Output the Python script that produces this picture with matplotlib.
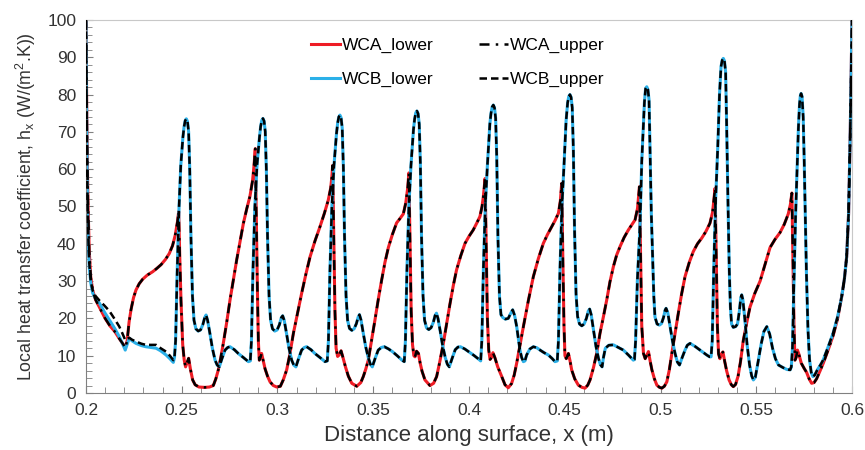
import matplotlib
matplotlib.use("Agg")
import matplotlib.pyplot as plt
from matplotlib.ticker import MultipleLocator, FuncFormatter

plt.rcParams['font.family'] = ['Liberation Sans', 'DejaVu Sans']

# WCA lower surface (red) as (x, h)
wca_lower = [
    (0.2000, 100), (0.2005, 70), (0.2010, 52), (0.2017, 38), (0.2025, 31), (0.2035, 27.5),
    (0.2050, 25), (0.2070, 23), (0.2100, 20), (0.2125, 18), (0.2150, 16.5), (0.2175, 14.5),
    (0.2195, 13), (0.2205, 12), (0.2215, 14), (0.2225, 19), (0.2235, 22.3), (0.2248, 25.5),
    (0.2261, 27.6), (0.2278, 29.3), (0.2296, 30.5), (0.2320, 31.6), (0.2348, 32.5), (0.2370, 33.4),
    (0.2392, 34.4), (0.2415, 35.8), (0.2435, 37.4), (0.2452, 39.5), (0.2466, 42.3), (0.2478, 46),
    (0.2484, 48.6), (0.2490, 36), (0.2496, 24.9), (0.2505, 13), (0.2513, 8.8), (0.2520, 7),
    (0.2528, 8.2), (0.2536, 9.3), (0.2545, 6.5), (0.2557, 3.5), (0.2570, 2.2), (0.2590, 1.6),
    (0.2620, 1.5), (0.2645, 1.6), (0.2665, 2.0), (0.2678, 3.8), (0.2691, 6.2), (0.2704, 9.5),
    (0.2717, 13.3), (0.2735, 19), (0.2752, 24.9), (0.2770, 30.5), (0.2787, 35.7), (0.2805, 40.8),
    (0.2822, 45.5), (0.2840, 49.5), (0.2856, 52.7), (0.2870, 57), (0.2877, 60.7), (0.2884, 65.5),
    (0.2890, 45), (0.2895, 28), (0.2900, 14), (0.2905, 8.8), (0.2911, 9.5), (0.2917, 10.6),
    (0.2926, 8.5), (0.2935, 6.5), (0.2948, 4.5), (0.2961, 3.0), (0.2978, 2.0), (0.2996, 1.6),
    (0.3015, 1.8), (0.3030, 3.5), (0.3048, 6.2), (0.3065, 10.5), (0.3083, 16), (0.3105, 21.5),
    (0.3126, 26.7), (0.3148, 31.8), (0.3170, 36.5), (0.3196, 40.8), (0.3222, 44.6), (0.3245, 48.2),
    (0.3265, 51.7), (0.3278, 55), (0.3284, 58), (0.3288, 61),
    (0.3294, 42), (0.3300, 22), (0.3306, 12), (0.3314, 9.8), (0.3322, 10.2), (0.3332, 11.3),
    (0.3342, 9.5), (0.3355, 7), (0.3370, 4.5), (0.3388, 2.6), (0.3414, 1.8), (0.3435, 2.8),
    (0.3448, 4.4), (0.3461, 6.4), (0.3474, 8.8), (0.3491, 14), (0.3509, 19.6), (0.3526, 25),
    (0.3544, 30.3), (0.3561, 35), (0.3579, 39), (0.3600, 42.5), (0.3622, 45.6), (0.3640, 46.8),
    (0.3657, 48), (0.3670, 51), (0.3680, 55), (0.3686, 59),
    (0.3692, 40), (0.3698, 22), (0.3705, 13), (0.3712, 10), (0.3718, 9.7), (0.3726, 11.2),
    (0.3736, 10.6), (0.3745, 8), (0.3755, 5.8), (0.3770, 3.5), (0.3796, 2.0), (0.3815, 2.6),
    (0.3831, 4.4), (0.3848, 8.5), (0.3866, 13.3), (0.3884, 18.8), (0.3901, 24), (0.3918, 28.8),
    (0.3935, 33), (0.3957, 36.8), (0.3979, 40.1), (0.4000, 42), (0.4022, 43.7), (0.4040, 45.5),
    (0.4057, 47.3), (0.4068, 50), (0.4075, 52.7), (0.4084, 57.5),
    (0.4090, 38), (0.4096, 20), (0.4103, 11.5), (0.4110, 9), (0.4117, 9.5), (0.4125, 10.8),
    (0.4135, 9.5), (0.4150, 7), (0.4171, 4.4), (0.4188, 2.2), (0.4205, 1.4), (0.4222, 2.5),
    (0.4236, 4.8), (0.4249, 8), (0.4266, 12.8), (0.4284, 17.8), (0.4310, 24.8), (0.4336, 31.2),
    (0.4362, 36), (0.4388, 40.1), (0.4410, 42.5), (0.4432, 44.6), (0.4450, 46.3), (0.4467, 48.2),
    (0.4477, 51.5), (0.4484, 56.2),
    (0.4490, 36), (0.4496, 18), (0.4501, 10), (0.4508, 9.2), (0.4519, 10.6), (0.4528, 8.5),
    (0.4536, 6.2), (0.4552, 3.8), (0.4571, 2.1), (0.4590, 1.5), (0.4606, 1.3), (0.4620, 2.1),
    (0.4632, 3.5), (0.4650, 6.8), (0.4667, 10.7), (0.4684, 16), (0.4702, 20.5), (0.4719, 24.9),
    (0.4736, 29.8), (0.4754, 33.9), (0.4771, 37), (0.4789, 39.3), (0.4810, 41.7), (0.4832, 43.7),
    (0.4850, 45.1), (0.4867, 46.4), (0.4880, 49.5), (0.4890, 55.3),
    (0.4896, 36), (0.4902, 18), (0.4911, 10.6), (0.4920, 9.2), (0.4930, 10.3), (0.4937, 11.1),
    (0.4945, 8.8), (0.4955, 6.2), (0.4968, 3.8), (0.4981, 2.1), (0.4995, 1.5), (0.5007, 1.3),
    (0.5020, 1.8), (0.5033, 3.0), (0.5046, 6.2), (0.5059, 10.6), (0.5076, 16), (0.5093, 21.4),
    (0.5110, 26.5), (0.5128, 31.2), (0.5150, 35), (0.5171, 37.9), (0.5193, 40), (0.5215, 41.5),
    (0.5237, 43.3), (0.5258, 45.5), (0.5272, 48.5), (0.5285, 54.9),
    (0.5291, 36), (0.5297, 18), (0.5303, 10.5), (0.5310, 9.2), (0.5318, 10.5), (0.5326, 11),
    (0.5335, 8.5), (0.5345, 6), (0.5358, 3.5), (0.5370, 2.2), (0.5380, 1.7), (0.5392, 2.3),
    (0.5405, 4.5), (0.5418, 8.5), (0.5432, 14), (0.5450, 18.8), (0.5467, 23), (0.5493, 26.8),
    (0.5520, 30), (0.5546, 34.5), (0.5572, 39), (0.5598, 41.2), (0.5624, 43), (0.5646, 45.2),
    (0.5667, 48), (0.5678, 50.5), (0.5686, 53.6),
    (0.5692, 35), (0.5697, 18), (0.5702, 8.8), (0.5708, 9.5), (0.5715, 11.5), (0.5722, 10.5),
    (0.5735, 8), (0.5750, 6.6), (0.5763, 5.5), (0.5776, 3.8), (0.5789, 2.6), (0.5802, 2.8),
    (0.5815, 3.8), (0.5832, 5.8), (0.5850, 8), (0.5875, 11.5), (0.5902, 15.5), (0.5925, 20),
    (0.5946, 25.8), (0.5960, 30.5), (0.5972, 36.5), (0.5982, 48), (0.5990, 67.8), (0.5996, 88),
    (0.6000, 100),
]

# WCB lower surface (blue)
wcb_start = [
    (0.2000, 100), (0.2004, 70), (0.2008, 50), (0.2012, 40), (0.2017, 33.9), (0.2025, 29.5),
    (0.2035, 26.8), (0.2050, 25.3), (0.2070, 24.1), (0.2095, 21.8), (0.2122, 19.6), (0.2150, 17.3),
    (0.2174, 15.1), (0.2190, 13.3), (0.2205, 11.5), (0.2215, 13), (0.2226, 14.7), (0.2240, 14),
    (0.2261, 13.3), (0.2290, 12.7), (0.2313, 12.4), (0.2340, 12.2), (0.2366, 12.0), (0.2390, 11.3),
    (0.2418, 10.2), (0.2438, 9.2), (0.2456, 8.2),
]
wcb_rest = [
    (0.2462, 9.5), (0.2468, 14), (0.2476, 32), (0.2486, 50), (0.2495, 61), (0.2506, 68.5),
    (0.2512, 71.3), (0.2518, 73), (0.2524, 73.5), (0.2530, 72.8), (0.2536, 70), (0.2542, 59.5),
    (0.2548, 42), (0.2556, 26), (0.2564, 19.5), (0.2574, 17.2),
    (0.2586, 16.6), (0.2598, 16.9), (0.2610, 18.3), (0.2620, 20.2), (0.2627, 20.9), (0.2635, 19.5),
    (0.2647, 16), (0.2660, 12), (0.2674, 8.8), (0.2685, 7.5), (0.2696, 7.0), (0.2710, 9.2),
    (0.2726, 11.5), (0.2740, 12.2), (0.2752, 12.4), (0.2775, 11.6), (0.2795, 10.6), (0.2822, 9.5),
    (0.2848, 8.4), (0.2858, 8.6),
    (0.2864, 14), (0.2872, 33), (0.2882, 50), (0.2893, 61), (0.2906, 68.6), (0.2912, 71.4),
    (0.2918, 73.1), (0.2924, 73.6), (0.2930, 72.9), (0.2936, 70.1), (0.2942, 59.6),
    (0.2948, 42), (0.2956, 26), (0.2964, 19.5), (0.2974, 17.2),
    (0.2986, 16.6), (0.2998, 16.9), (0.3010, 18.3), (0.3020, 20.2), (0.3027, 20.7), (0.3035, 19.5),
    (0.3047, 16), (0.3060, 12), (0.3074, 8.8), (0.3085, 7.5), (0.3096, 7.0), (0.3110, 9.2),
    (0.3126, 11.5), (0.3140, 12.2), (0.3152, 12.4), (0.3175, 11.6), (0.3195, 10.6), (0.3222, 9.5),
    (0.3248, 8.4), (0.3260, 8.6),
    (0.3266, 14), (0.3274, 33), (0.3284, 50), (0.3295, 61), (0.3308, 69.5), (0.3314, 72.3),
    (0.3320, 74), (0.3326, 74.5), (0.3332, 73.8), (0.3338, 71), (0.3344, 60.5),
    (0.3350, 42), (0.3358, 26), (0.3366, 19.5), (0.3376, 17.3),
    (0.3388, 16.8), (0.3400, 17.2), (0.3412, 18.6), (0.3421, 20.3), (0.3428, 21), (0.3436, 19.6),
    (0.3448, 16), (0.3461, 12.3), (0.3474, 9.5), (0.3485, 7.7), (0.3495, 7.0), (0.3510, 9.3),
    (0.3526, 11.5), (0.3542, 12.2), (0.3558, 12.4), (0.3580, 11.8), (0.3600, 11.1), (0.3625, 10),
    (0.3650, 8.8), (0.3662, 8.4),
    (0.3668, 14), (0.3676, 33), (0.3686, 50), (0.3697, 61), (0.3710, 70.6), (0.3716, 73.4),
    (0.3722, 75.1), (0.3728, 75.6), (0.3734, 74.9), (0.3740, 72.1), (0.3746, 61.6),
    (0.3752, 42), (0.3760, 26), (0.3768, 19.5), (0.3778, 17.5),
    (0.3790, 17), (0.3802, 17.5), (0.3814, 19), (0.3823, 20.8), (0.3830, 21.4), (0.3838, 20),
    (0.3850, 16.5), (0.3863, 12.5), (0.3876, 9.5), (0.3887, 7.7), (0.3897, 7.0), (0.3912, 9.3),
    (0.3928, 11.6), (0.3942, 12.3), (0.3955, 12.4), (0.3978, 11.8), (0.4000, 11), (0.4025, 10.1),
    (0.4045, 9.3), (0.4061, 8.6),
    (0.4067, 14), (0.4075, 33), (0.4085, 50), (0.4096, 61), (0.4109, 72.2), (0.4115, 75),
    (0.4121, 76.7), (0.4127, 77.2), (0.4133, 76.5), (0.4139, 73.7), (0.4145, 63),
    (0.4151, 42), (0.4159, 26), (0.4167, 21), (0.4177, 20.2),
    (0.4190, 19.8), (0.4205, 20), (0.4218, 21.4), (0.4228, 22.3), (0.4238, 20.8), (0.4249, 17.8),
    (0.4258, 14.5), (0.4266, 11.5), (0.4275, 9.5), (0.4284, 8.4), (0.4292, 8.6), (0.4301, 10.2),
    (0.4318, 11.8), (0.4336, 12.4), (0.4355, 12.1), (0.4371, 11.5), (0.4392, 10.8), (0.4414, 10.2),
    (0.4435, 9.2), (0.4449, 8.4), (0.4461, 8.6),
    (0.4467, 14), (0.4475, 33), (0.4485, 50), (0.4496, 61), (0.4507, 73), (0.4515, 77.8),
    (0.4521, 79.5), (0.4527, 80), (0.4533, 79.3), (0.4539, 76.5), (0.4545, 65),
    (0.4551, 44), (0.4559, 26.5), (0.4567, 20.5), (0.4577, 18.5),
    (0.4589, 18), (0.4601, 18.5), (0.4613, 20), (0.4623, 22), (0.4630, 22.5), (0.4638, 21),
    (0.4650, 17), (0.4663, 12.5), (0.4676, 9.3), (0.4686, 7.6), (0.4695, 7.0), (0.4702, 9.5),
    (0.4712, 12), (0.4730, 12.8), (0.4754, 12.9), (0.4780, 12.2), (0.4806, 11.5), (0.4832, 10.2),
    (0.4858, 8.8), (0.4864, 9.0),
    (0.4870, 14), (0.4879, 30), (0.4893, 45), (0.4902, 62), (0.4911, 72), (0.4916, 78),
    (0.4922, 81.6), (0.4928, 82.1), (0.4934, 81.4), (0.4940, 78.6), (0.4946, 64),
    (0.4952, 48), (0.4959, 35.7), (0.4965, 26), (0.4971, 20.4),
    (0.4982, 18.5), (0.4994, 18.2), (0.5005, 18.6), (0.5016, 20.3), (0.5024, 22.2), (0.5029, 22.7),
    (0.5038, 21.5), (0.5050, 17.8), (0.5063, 13.8), (0.5076, 10.6), (0.5088, 8.3), (0.5099, 7.5),
    (0.5113, 9.5), (0.5128, 11.5), (0.5140, 12.8), (0.5154, 13.3), (0.5180, 12.5), (0.5206, 11.5),
    (0.5225, 10.8), (0.5241, 10.2), (0.5256, 9.7), (0.5264, 9.7),
    (0.5270, 14), (0.5278, 33), (0.5288, 52), (0.5299, 66), (0.5308, 80), (0.5316, 87.5),
    (0.5322, 89.2), (0.5328, 89.7), (0.5334, 89), (0.5340, 86), (0.5346, 70),
    (0.5352, 52), (0.5359, 33), (0.5365, 23), (0.5371, 18.5),
    (0.5380, 17.6), (0.5392, 17.8), (0.5402, 18.5), (0.5412, 22), (0.5419, 25.5), (0.5424, 26.3),
    (0.5430, 25), (0.5440, 20), (0.5452, 13), (0.5465, 7.5), (0.5476, 4.6), (0.5485, 3.5),
    (0.5495, 4.2), (0.5510, 8.5), (0.5525, 13), (0.5540, 16.5), (0.5555, 17.8), (0.5570, 15.8),
    (0.5585, 12), (0.5600, 9.2), (0.5616, 7.5), (0.5640, 6.8), (0.5660, 6.3), (0.5677, 6.2),
    (0.5683, 7),
    (0.5689, 12), (0.5696, 28), (0.5705, 47), (0.5714, 61), (0.5720, 71), (0.5726, 77.5),
    (0.5730, 79.6), (0.5734, 80.3), (0.5739, 79.5), (0.5745, 74), (0.5750, 63),
    (0.5755, 50), (0.5762, 32), (0.5770, 17), (0.5778, 9),
    (0.5787, 5.5), (0.5796, 4.4), (0.5805, 4.8), (0.5820, 6.3), (0.5835, 7.5), (0.5849, 8.8),
    (0.5875, 12.3), (0.5901, 16), (0.5925, 20.5), (0.5946, 25.8), (0.5960, 30.5), (0.5972, 36.5),
    (0.5982, 48), (0.5990, 67.8), (0.5996, 88), (0.6000, 100),
]
wcb_lower = wcb_start + wcb_rest

# upper surfaces: WCA upper follows WCA lower, WCB upper sits a bit higher near the leading edge
wca_upper = wca_lower
wcb_upper_start = [
    (0.2000, 100), (0.2004, 72), (0.2008, 52), (0.2012, 42), (0.2017, 35), (0.2025, 30),
    (0.2035, 27.5), (0.2050, 26), (0.2070, 24.8), (0.2095, 23.5), (0.2122, 22), (0.2150, 19.8),
    (0.2174, 17.8), (0.2190, 16), (0.2205, 14.2), (0.2215, 14.5), (0.2226, 14.8), (0.2240, 14.3),
    (0.2261, 13.8), (0.2290, 13.2), (0.2313, 12.9), (0.2340, 12.9), (0.2366, 12.9), (0.2390, 12),
    (0.2418, 11.1), (0.2438, 10), (0.2456, 8.8),
]
wcb_upper = wcb_upper_start + wcb_rest

fig = plt.figure(figsize=(8.65, 4.5), dpi=100)
ax = fig.add_axes([0.0994, 0.1267, 0.8856, 0.8289])

x, y = zip(*wca_lower)
ax.plot(x, y, color='#EE1C25', lw=2.2, label='WCA_lower', zorder=2)
x, y = zip(*wcb_lower)
ax.plot(x, y, color='#2BB0E8', lw=2.2, label='WCB_lower', zorder=2)
x, y = zip(*wca_upper)
ax.plot(x, y, color='black', lw=1.8, dashes=(4, 2.5, 1, 2.5), label='WCA_upper', zorder=3)
x, y = zip(*wcb_upper)
ax.plot(x, y, color='black', lw=1.8, dashes=(3, 1.6), label='WCB_upper', zorder=3)

ax.set_xlim(0.2, 0.6)
ax.set_ylim(0, 100)
ax.xaxis.set_major_locator(MultipleLocator(0.05))
ax.xaxis.set_minor_locator(MultipleLocator(0.01))
ax.yaxis.set_major_locator(MultipleLocator(10))
ax.yaxis.set_minor_locator(MultipleLocator(2))
ax.xaxis.set_major_formatter(FuncFormatter(lambda v, _: f"{v:g}"))
ax.tick_params(which='both', direction='in', colors='#808080', labelcolor='#333333',
               labelsize=12.5, top=False, right=False)
ax.tick_params(which='major', length=5, pad=7)
ax.tick_params(which='minor', length=4)
for side in ['left', 'bottom']:
    ax.spines[side].set_color('#808080')
for side in ['top', 'right']:
    ax.spines[side].set_color('#C8C8C8')

ax.set_xlabel('Distance along surface, x (m)', fontsize=16, color='#333333', labelpad=5)
ax.set_ylabel('Local heat transfer coefficient, h$_\\mathregular{x}$ (W/(m$^\\mathregular{2}$.K))',
              fontsize=12.8, color='#333333', labelpad=7)

h, l = ax.get_legend_handles_labels()
ax.legend(h, l, ncol=2, frameon=False,
          loc='upper center', bbox_to_anchor=(0.485, 0.995), fontsize=12.5,
          handlelength=1.7, handletextpad=0.1, columnspacing=2.6, labelspacing=1.1)

fig.savefig('out.png', dpi=100)
